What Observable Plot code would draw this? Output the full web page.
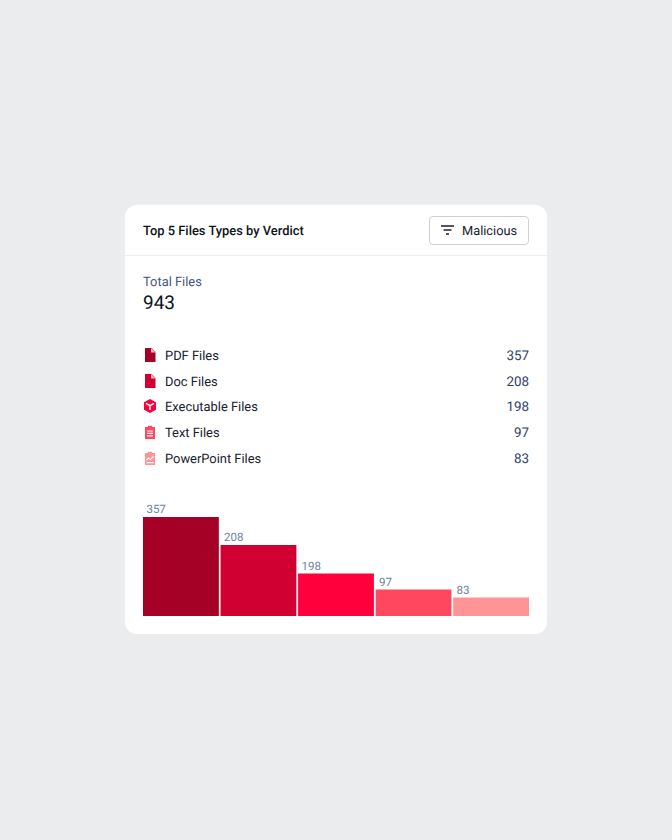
<!DOCTYPE html>
<html><head><meta charset="utf-8">
<script src="https://cdn.jsdelivr.net/npm/d3@7"></script>
<script src="https://cdn.jsdelivr.net/npm/@observablehq/plot@0.6"></script>
<style>
html,body{margin:0;padding:0;width:672px;height:840px;overflow:hidden;background:#ebecee;font-family:Roboto,sans-serif;text-rendering:geometricPrecision;}
#card{position:absolute;left:125px;top:205px;width:422px;height:429px;background:#fff;border-radius:12px;}
.abs{position:absolute;white-space:nowrap;}
#title{left:18px;top:17.5px;font-size:12.9px;line-height:17px;font-weight:500;color:#0d1320;}
#btn{left:304px;top:11px;width:98px;height:27px;border:1px solid #ccd0d8;border-radius:4px;}
#btn svg{position:absolute;left:11px;top:8px;}
#btn span{position:absolute;left:32px;top:5.5px;font-size:12.8px;line-height:17px;color:#1a2030;}
#rule{left:0;top:50px;width:422px;height:1px;background:#ececef;}
#tl{left:18px;top:69px;font-size:12.9px;line-height:17px;color:#46587f;}
#tv{left:18px;top:86px;font-size:19px;line-height:23px;font-weight:400;color:#0d1320;}
.ic{position:absolute;left:18px;}
.nm{left:40px;font-size:12.9px;line-height:17px;color:#1a2030;}
.vl{right:18px;font-size:13.4px;line-height:17px;color:#2f3d68;}
#chart{left:18px;top:293px;}
#chart svg{display:block;overflow:visible;}
</style></head><body>
<div id="card">
<div class="abs" id="title">Top 5 Files Types by Verdict</div>
<div class="abs" id="btn"><svg width="14" height="11" viewBox="0 0 14 11"><path d="M0 1h13M2.5 5h8M5 9h3" stroke="#1a2030" stroke-width="1.4" fill="none"/></svg><span>Malicious</span></div>
<div class="abs" id="rule"></div>
<div class="abs" id="tl">Total Files</div>
<div class="abs" id="tv">943</div>
<div id="list"></div>
<div class="abs" id="chart"></div>
</div>
<script>
const names = ["PDF Files","Doc Files","Executable Files","Text Files","PowerPoint Files"];
const counts = [357,208,198,97,83];
const colors = ["#a50026","#d10032","#ff003c","#ff4860","#ff9395"];

const file = '<path d="M2 0h6.5L12.5 4v10H2z"/><path d="M8 0v4.5h4.5" fill="#fff" fill-opacity=".75"/>';
const cube = '<path d="M7 0l6 3.2v7.6L7 14l-6-3.2V3.2z"/><path d="M3 4.4L7 6.6l4-2.2M7 6.6v4.4" stroke="#fff" stroke-width="1.5" fill="none"/>';
const clip = '<path d="M2 2h3V.8h4V2h3v12H2z"/><path d="M4 6h6M4 8.4h6M4 10.8h6" stroke="#fff" stroke-width="1.2"/>';
const chartIc = '<path d="M2 2h3V.8h4V2h3v12H2z"/><path d="M3.5 9l2-2 2 1.6L10.5 5.5M3.5 11.6h7" stroke="#fff" stroke-width="1.1" fill="none"/>';
const icons = [file,file,cube,clip,chartIc];
const list = document.getElementById("list");
names.forEach((n,i)=>{
  const top = 143 + i*25.7;
  list.insertAdjacentHTML("beforeend",
   `<svg class="ic" style="top:${top}px;fill:${colors[i]}" width="14" height="14" viewBox="0 0 14 14">${icons[i]}</svg>
    <div class="abs nm" style="top:${top}px">${n}</div>
    <div class="abs vl" style="top:${top}px">${counts[i]}</div>`);
});

const rows = names.map((n,i)=>({name:n,count:counts[i],color:colors[i]}));
const plot = Plot.plot({
  width:386,height:118,marginTop:19,marginBottom:0,marginLeft:0,marginRight:0,
  x:{domain:names,paddingInner:0.022,paddingOuter:0,round:false,axis:null},
  y:{type:"linear",domain:[0,83,97,198,208,357],range:[118,99.5,91.5,75.5,47,19],axis:null},
  marks:[
    Plot.barY(rows,{x:"name",y:"count",fill:"color"}),
    Plot.text(rows,{x:"name",y:"count",text:d=>String(d.count),dx:-35,dy:-8,textAnchor:"start",fill:"#6d81a3",fontSize:11.5,fontFamily:"Roboto"})
  ]
});
document.getElementById("chart").appendChild(plot);
</script>
</body></html>
